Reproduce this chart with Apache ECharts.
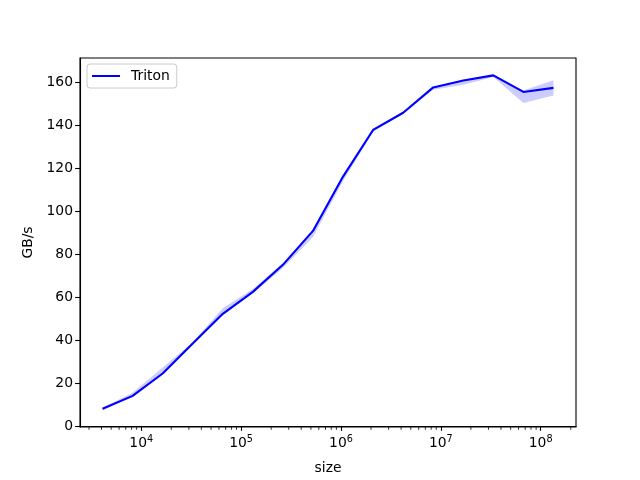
<!DOCTYPE html>
<html>
<head>
<meta charset="utf-8">
<script src="https://cdn.jsdelivr.net/npm/echarts@6/dist/echarts.min.js"></script>
<style>html,body{margin:0;padding:0;background:#fff}#c{width:640px;height:480px}</style>
</head>
<body>
<div id="c"></div>
<script>
var sizes = [4096, 8192, 16384, 32768, 65536, 131072, 262144, 524288, 1048576, 2097152, 4194304, 8388608, 16777216, 33554432, 67108864, 134217728];
var triton = [8.0, 14.0, 24.4, 38.4, 52.2, 62.4, 75.0, 90.8, 116.1, 137.8, 145.8, 157.6, 160.8, 163.2, 155.5, 157.4];
var tritonLow = [7.3, 13.5, 24.0, 38.0, 51.5, 61.8, 73.5, 88.0, 114.0, 137.0, 145.2, 156.5, 158.8, 162.5, 150.3, 153.8];
var tritonHigh = [8.5, 15.5, 27.2, 39.0, 54.8, 63.8, 75.8, 91.3, 116.5, 138.2, 146.3, 157.8, 161.0, 163.5, 156.2, 160.9];
var xMajorTicks = [1e4, 1e5, 1e6, 1e7, 1e8];
var xMinorTicks = [3e3,4e3,5e3,6e3,7e3,8e3,9e3,
  2e4,3e4,4e4,5e4,6e4,7e4,8e4,9e4,
  2e5,3e5,4e5,5e5,6e5,7e5,8e5,9e5,
  2e6,3e6,4e6,5e6,6e6,7e6,8e6,9e6,
  2e7,3e7,4e7,5e7,6e7,7e7,8e7,9e7,
  2e8];
var yTicks = [0, 20, 40, 60, 80, 100, 120, 140, 160];

var xMin = 2436, xMax = 2.257e8, yMin = -0.5, yMax = 171.3;
var FONT = 'DejaVu Sans';

function pairs(xs, ys){ return xs.map(function(x,i){ return [x, ys[i]]; }); }

var chart = echarts.init(document.getElementById('c'), null, {renderer:'canvas'});
chart.setOption({
  animation: false,
  backgroundColor: '#fff',
  grid: {left: 80, right: 64, top: 58, bottom: 53, show: true, borderColor: '#000', borderWidth: 1.1, backgroundColor: 'transparent'},
  legend: {
    left: 87, top: 64, orient: 'vertical',
    padding: [5, 7, 5, 5],
    borderColor: '#cccccc', borderWidth: 1, borderRadius: 3, backgroundColor: '#fff',
    itemWidth: 28, itemHeight: 2, icon: 'rect',
    textStyle: {fontFamily: FONT, fontSize: 13.9, color: '#000', padding: [0,0,0,6]},
    data: ['Triton']
  },
  xAxis: {
    type: 'log', logBase: 10, min: xMin, max: xMax,
    name: 'size', nameLocation: 'middle', nameGap: 34,
    nameTextStyle: {fontFamily: FONT, fontSize: 13.9, color: '#000'},
    axisLine: {show: true, lineStyle: {color: '#000', width: 1.1}},
    splitLine: {show: false},
    axisTick: {show: true, customValues: xMajorTicks, length: 4.9, lineStyle: {color: '#000', width: 1.1}},
    axisLabel: {
      customValues: xMajorTicks, margin: 7,
      fontFamily: FONT, fontSize: 13.9, color: '#000',
      formatter: function(v){ return '10{sup|' + Math.round(Math.log10(v)) + '}'; },
      rich: {sup: {fontFamily: FONT, fontSize: 9.7, color: '#000', padding: [0,0,8,0]}}
    }
  },
  yAxis: {
    type: 'value', min: yMin, max: yMax,
    name: 'GB/s', nameLocation: 'middle', nameGap: 39, nameRotate: 90,
    nameTextStyle: {fontFamily: FONT, fontSize: 13.9, color: '#000'},
    axisLine: {show: true, lineStyle: {color: '#000', width: 1.1}},
    splitLine: {show: false},
    axisTick: {show: true, customValues: yTicks, length: 4.9, lineStyle: {color: '#000', width: 1.1}},
    axisLabel: {customValues: yTicks, margin: 7, fontFamily: FONT, fontSize: 13.9, color: '#000'}
  },
  series: [
    {
      type: 'custom', name: 'band', silent: true, clip: true, z: 1,
      data: [[sizes[0], triton[0]]],
      renderItem: function(params, api){
        var pts = [];
        for (var i = 0; i < sizes.length; i++) pts.push(api.coord([sizes[i], tritonHigh[i]]));
        for (var j = sizes.length - 1; j >= 0; j--) pts.push(api.coord([sizes[j], tritonLow[j]]));
        return {type: 'polygon', shape: {points: pts}, style: {fill: 'rgba(0,0,255,0.2)', stroke: 'none'}};
      }
    },
    {
      type: 'custom', name: 'minorTicks', silent: true, clip: false, z: 3,
      data: [[xMinorTicks[0], yMin]],
      renderItem: function(params, api){
        var children = xMinorTicks.map(function(v){
          var p = api.coord([v, yMin]);
          return {type: 'line', shape: {x1: p[0], y1: p[1], x2: p[0], y2: p[1] + 2.8}, style: {stroke: '#000', lineWidth: 0.8}};
        });
        return {type: 'group', children: children};
      }
    },
    {
      type: 'line', name: 'Triton', z: 2,
      data: pairs(sizes, triton),
      symbol: 'none', showSymbol: false,
      lineStyle: {color: '#0000ff', width: 2.1},
      itemStyle: {color: '#0000ff'}
    }
  ]
});
</script>
</body>
</html>
